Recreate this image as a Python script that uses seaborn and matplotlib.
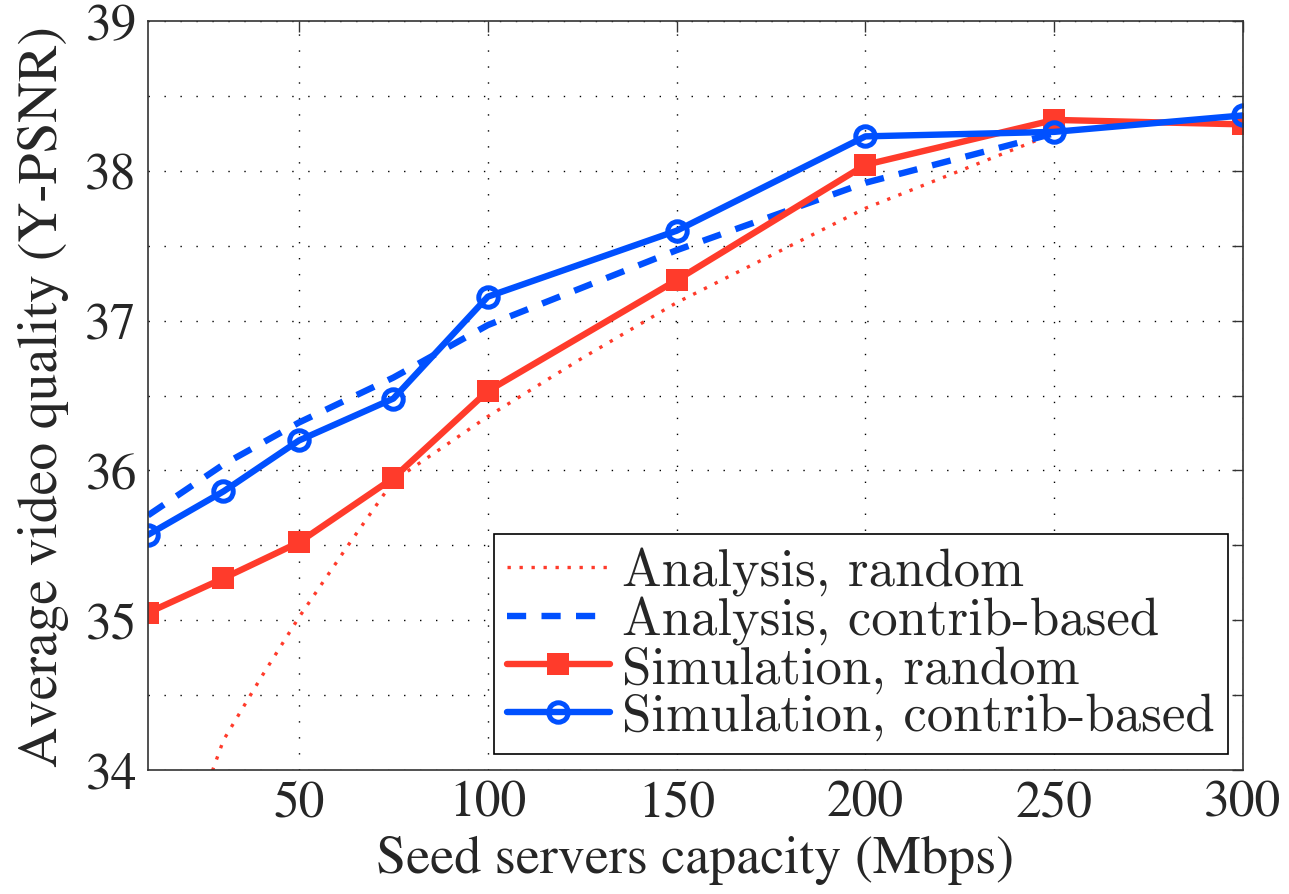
import matplotlib
matplotlib.use("Agg")
import matplotlib.pyplot as plt
from matplotlib.ticker import MultipleLocator, FuncFormatter
import seaborn as sns

# data
capacity = [10, 30, 50, 75, 100, 150, 200, 250, 300]
sim_random = [35.05, 35.28, 35.52, 35.95, 36.53, 37.27, 38.04, 38.34, 38.31]
sim_contrib = [35.57, 35.86, 36.20, 36.48, 37.16, 37.60, 38.23, 38.26, 38.37]

ana_contrib_x = [10, 30, 50, 75, 100, 150, 200, 250]
ana_contrib = [35.70, 36.04, 36.32, 36.62, 36.97, 37.47, 37.92, 38.25]

ana_random_x = [10, 30, 40, 50, 63, 75, 100, 125, 150, 200, 250]
ana_random = [32.8, 34.2, 34.62, 35.02, 35.5, 35.93, 36.36, 36.75, 37.12, 37.75, 38.25]

RED = "#ff3b2b"
BLUE = "#0050ff"

sns.set_style("white")
plt.rcParams["font.family"] = ["STIXGeneral", "DejaVu Serif"]

fig = plt.figure(figsize=(12.89, 8.95), dpi=100)
ax = fig.add_axes([0.1148, 0.1385, 0.8495, 0.8369])

sns.lineplot(x=ana_random_x, y=ana_random, ax=ax, color=RED, linewidth=2.4,
             linestyle=(0, (1.0, 2.6)), label="Analysis, random")
sns.lineplot(x=ana_contrib_x, y=ana_contrib, ax=ax, color=BLUE, linewidth=4.6,
             linestyle=(0, (3.0, 2.4)), label="Analysis, contrib-based")
sns.lineplot(x=capacity, y=sim_random, ax=ax, color=RED, linewidth=4.6,
             marker="s", markersize=15.5, markeredgewidth=0, label="Simulation, random")
sns.lineplot(x=capacity, y=sim_contrib, ax=ax, color=BLUE, linewidth=4.6,
             marker="o", markersize=14, markerfacecolor="none",
             markeredgecolor=BLUE, markeredgewidth=3.6, label="Simulation, contrib-based")

ax.set_xlim(10, 300)
ax.set_ylim(34, 39)
ax.xaxis.set_major_locator(MultipleLocator(50))
ax.yaxis.set_major_locator(MultipleLocator(0.5))
ax.yaxis.set_major_formatter(FuncFormatter(lambda v, p: f"{v:.0f}" if abs(v - round(v)) < 1e-6 else ""))

ax.grid(True, color="black", linestyle=(0, (1, 10.5)), linewidth=1.0)
ax.tick_params(direction="in", length=8, width=1, top=True, right=True,
               labelsize=37, color="#333333")
ax.tick_params(axis="x", pad=7)
ax.tick_params(axis="y", pad=8)
for s in ax.spines.values():
    s.set_color("#333333")
    s.set_linewidth(1.2)

ax.set_xlabel("Seed servers capacity (Mbps)", fontsize=39, labelpad=6)
ax.set_ylabel("Average video quality (Y-PSNR)", fontsize=40, labelpad=12)

leg = ax.legend(loc="lower right", bbox_to_anchor=(0.986, 0.022), borderaxespad=0,
                prop={"family": ["cmr10", "DejaVu Serif"], "size": 38},
                frameon=True, fancybox=False, framealpha=1,
                edgecolor="black", handlelength=1.95, handletextpad=0.23,
                labelspacing=0.0, borderpad=0.25)
leg.get_frame().set_linewidth(1.2)

fig.savefig("out.png", dpi=100)
